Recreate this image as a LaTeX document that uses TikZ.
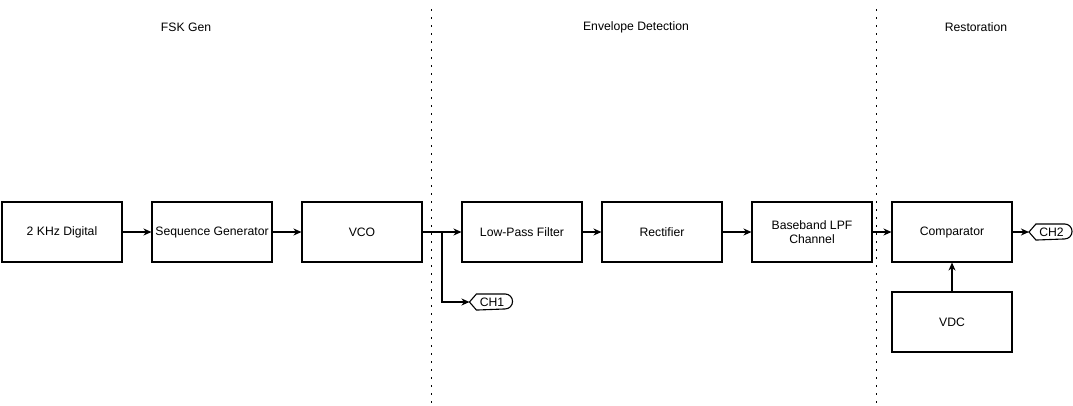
\documentclass[tikz,border=0pt]{standalone}
\usepackage{fontspec}
\setmainfont{Liberation Sans}
\usetikzlibrary{arrows.meta}
\begin{document}
\begin{tikzpicture}[x=1pt, y=-1pt, line width=1.1pt, font=\fontsize{12.2}{14}\selectfont,
    every node/.style={inner sep=0pt},
    block/.style={draw, minimum width=120pt, minimum height=60pt, align=center},
    tag/.style={minimum width=40pt, minimum height=15pt, xshift=2pt},
    sep/.style={line width=1.8pt, dash pattern=on 1.8pt off 6.2pt},
    >={Stealth[length=8pt, width=7pt, inset=2.5pt]}]
      \useasboundingbox (0,0) rectangle (1073,405);

      % section titles
      \node (t1) at (186,27) {FSK Gen};
      \node (t2) at (636,27) {Envelope Detection};
      \node (t3) at (976,27) {Restoration};

      % separators
      \draw[sep] (431.5,9) -- (431.5,404);
      \draw[sep] (876.5,9) -- (876.5,404);

      % blocks
      \node[block] (dig) at (62,232) {2 KHz Digital};
      \node[block] (seq) at (212,232) {Sequence Generator};
      \node[block] (vco) at (362,232) {VCO};
      \node[block] (lpf) at (522,232) {Low-Pass Filter};
      \node[block] (rect) at (662,232) {Rectifier};
      \node[block] (bb) at (812,232) {Baseband LPF\\Channel};
      \node[block] (comp) at (952,232) {Comparator};
      \node[block] (vdc) at (952,322) {VDC};

      % probes
      \node[tag] (ch1) at (490,302) {CH1};
      \node[tag] (ch2) at (1049.5,232) {CH2};
      \foreach \c in {ch1,ch2} {
        \draw ([xshift=-2pt]\c.west) -- ([xshift=5pt]\c.north west)
          -- ([xshift=-7.5pt]\c.north east) arc[start angle=90, end angle=-90, radius=7.5pt]
          -- ([xshift=5pt]\c.south west) -- cycle;
      }

      % signal path
      \draw[->] (dig) -- (seq);
      \draw[->] (seq) -- (vco);
      \draw[->] (vco) -- (lpf);
      \draw[->] (lpf) -- (rect);
      \draw[->] (rect) -- (bb);
      \draw[->] (bb) -- (comp);
      \draw[->] (vdc) -- (comp);
      \draw[->] (comp) -- ([xshift=-2pt]ch2.west);

      \coordinate (tap) at (442,232);
      \draw[->] (tap) |- ([xshift=-2pt]ch1.west);
    \end{tikzpicture}
\end{document}
